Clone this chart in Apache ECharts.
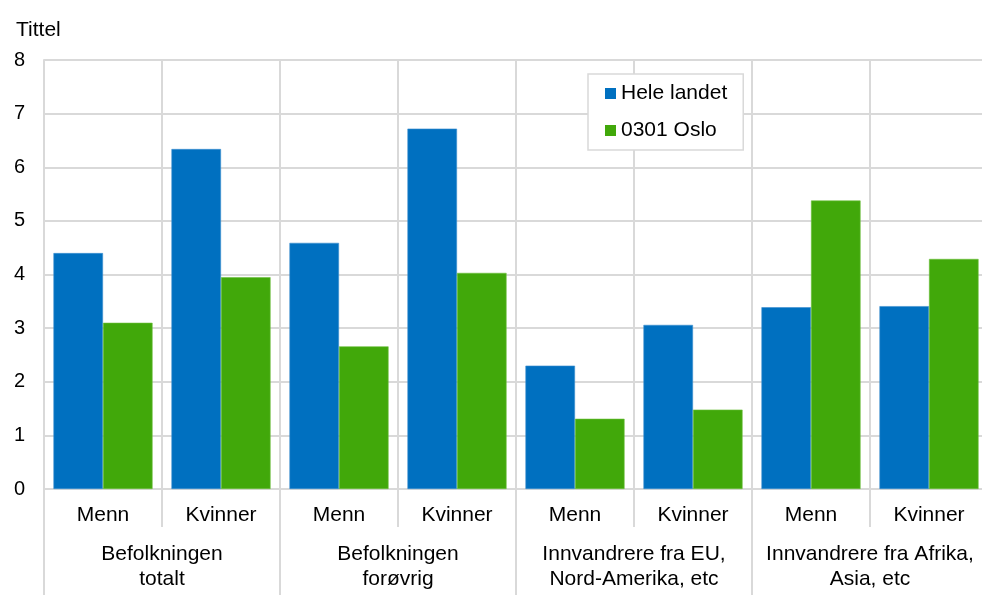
<!DOCTYPE html>
<html>
<head>
<meta charset="utf-8">
<script src="https://cdn.jsdelivr.net/npm/echarts@6/dist/echarts.min.js"></script>
<style>html,body{margin:0;padding:0;background:#fff;overflow:hidden;}#c{width:982px;height:595px;}</style>
</head>
<body>
<div id="c"></div>
<script>
var subCategories = ['Menn','Kvinner','Menn','Kvinner','Menn','Kvinner','Menn','Kvinner'];
var groupCategories = ['Befolkningen\ntotalt','Befolkningen\nforøvrig','Innvandrere fra EU,\nNord-Amerika, etc','Innvandrere fra Afrika,\nAsia, etc'];
var seriesNames = ['Hele landet','0301 Oslo'];
var heleLandet = [4.40, 6.34, 4.59, 6.72, 2.30, 3.06, 3.39, 3.41];
var oslo = [3.10, 3.95, 2.66, 4.03, 1.31, 1.48, 5.38, 4.29];
var yTicks = [0,1,2,3,4,5,6,7,8];

var font = 'Liberation Sans, Arial, sans-serif';
var gridColor = '#d9d9d9';
var chart = echarts.init(document.getElementById('c'), null, {renderer:'canvas'});
chart.setOption({
  animation: false,
  textStyle: {fontFamily: font, color: '#000'},
  title: {text: 'Tittel', left: 11, top: 15, textStyle: {fontFamily: font, fontSize: 21, fontWeight: 'normal', color: '#000'}},
  legend: {
    data: seriesNames, orient: 'vertical', left: 588, top: 74,
    backgroundColor: '#fff', borderColor: gridColor, borderWidth: 1.5,
    padding: [9, 16, 9, 17], itemGap: 16, itemWidth: 11, itemHeight: 11, icon: 'rect',
    itemStyle: {borderWidth: 0},
    textStyle: {fontFamily: font, fontSize: 21, color: '#000'}
  },
  grid: {left: 44, width: 944, top: 60, bottom: 106, containLabel: false, outerBoundsMode: 'none'},
  xAxis: [{
    type: 'category', data: subCategories, position: 'bottom',
    axisLine: {show: true, lineStyle: {color: gridColor, width: 2}},
    axisTick: {show: true, length: 38, lineStyle: {color: gridColor, width: 2}},
    splitLine: {show: true, lineStyle: {color: gridColor, width: 2}},
    axisLabel: {interval: 0, margin: 16, fontSize: 21, color: '#000', fontFamily: font}
  }, {
    type: 'category', data: groupCategories, position: 'bottom', offset: 0,
    axisLine: {show: false},
    axisTick: {show: true, length: 110, lineStyle: {color: gridColor, width: 2}},
    splitLine: {show: false},
    axisLabel: {interval: 0, margin: 53, fontSize: 21, lineHeight: 25, color: '#000', fontFamily: font}
  }],
  yAxis: {
    type: 'value', min: yTicks[0], max: yTicks[yTicks.length-1], interval: 1,
    axisLine: {show: true, lineStyle: {color: gridColor, width: 2}},
    axisTick: {show: false},
    splitLine: {show: true, lineStyle: {color: gridColor, width: 2}},
    axisLabel: {margin: 19, fontSize: 20, color: '#000', fontFamily: font}
  },
  series: [{
    name: seriesNames[0], type: 'bar', data: heleLandet, xAxisIndex: 0,
    barGap: '0%', barCategoryGap: '16%',
    itemStyle: {color: '#0070c0', borderColor: '#3d8fd0', borderWidth: 0.6}
  }, {
    name: seriesNames[1], type: 'bar', data: oslo, xAxisIndex: 0,
    barGap: '0%', barCategoryGap: '16%',
    itemStyle: {color: '#41a80a', borderColor: '#6cc03c', borderWidth: 0.6}
  }]
});
</script>
</body>
</html>
